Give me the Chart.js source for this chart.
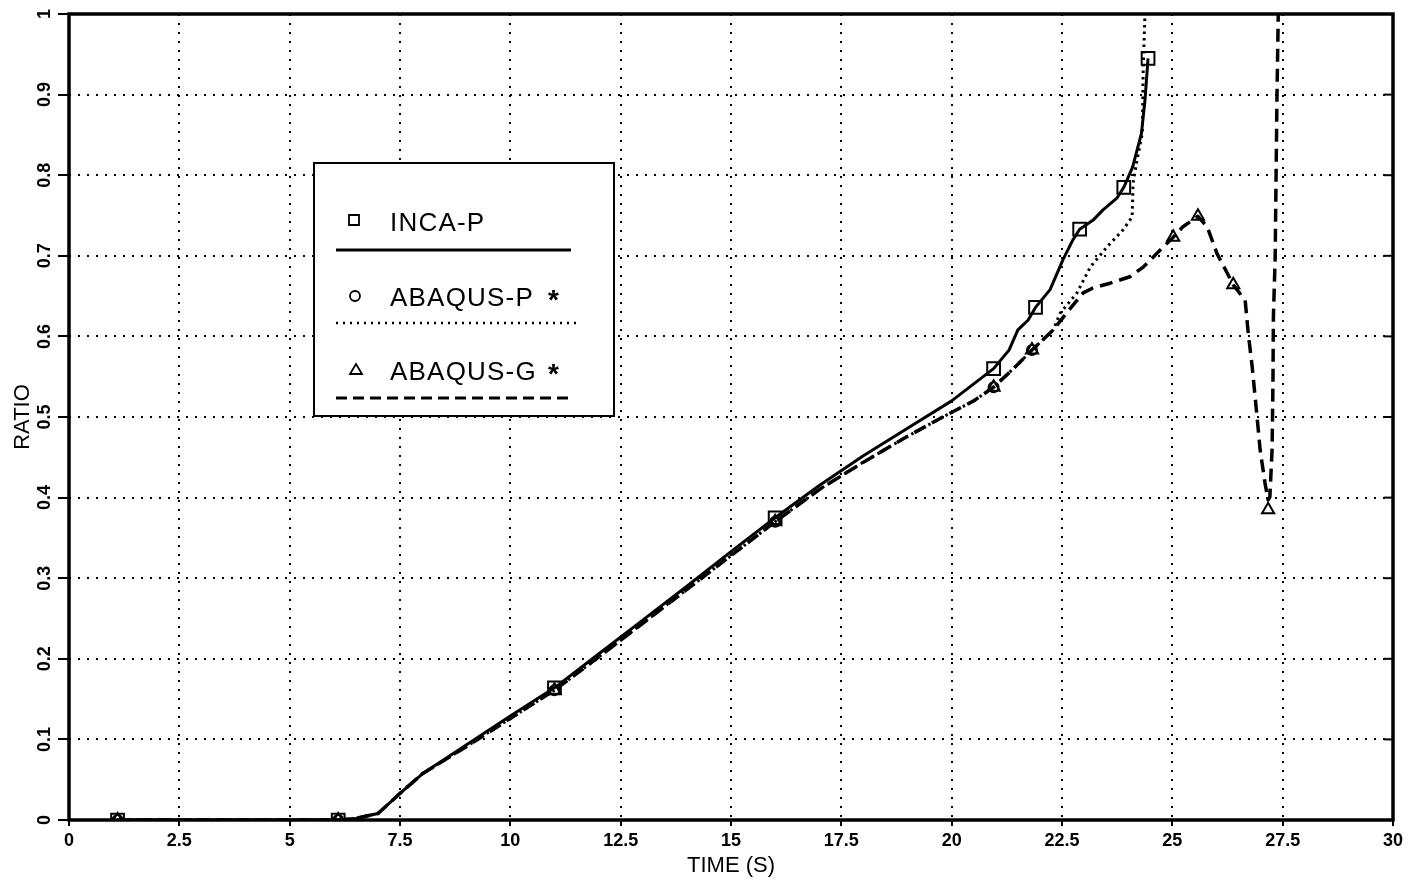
<!DOCTYPE html>
<html>
<head>
<meta charset="utf-8">
<title>Ratio vs time</title>
<script src="https://cdn.jsdelivr.net/npm/chart.js@4.4.1/dist/chart.umd.min.js"></script>
<style>
  html, body { margin: 0; padding: 0; background: #fff; }
  #wrap { width: 1410px; height: 881px; position: relative; }
</style>
</head>
<body>
<div id="wrap"><canvas id="ratioChart"></canvas></div>
<script>
// axis ticks
const xTicks = [0, 2.5, 5, 7.5, 10, 12.5, 15, 17.5, 20, 22.5, 25, 27.5, 30];
const xTickLabels = ['0', '2.5', '5', '7.5', '10', '12.5', '15', '17.5', '20', '22.5', '25', '27.5', '30'];
const yTicks = [0, 0.1, 0.2, 0.3, 0.4, 0.5, 0.6, 0.7, 0.8, 0.9, 1];
const yTickLabels = ['0', '0.1', '0.2', '0.3', '0.4', '0.5', '0.6', '0.7', '0.8', '0.9', '1'];

// INCA-P (solid line, square markers)
const incaTime  = [1.1, 6.1, 6.5, 7, 7.5, 8, 9, 10, 11, 12, 13, 14, 15, 16, 17, 18, 19, 20, 20.95,
                   21.3, 21.5, 21.73, 21.9, 22.23, 22.52, 22.75, 22.9, 23.2, 23.43, 23.75, 23.9,
                   24.1, 24.3, 24.38, 24.45];
const incaRatio = [0, 0, 0.002, 0.008, 0.033, 0.057, 0.093, 0.129, 0.164, 0.206, 0.248, 0.29, 0.333, 0.375, 0.415, 0.452, 0.486, 0.52, 0.56,
                   0.583, 0.608, 0.62, 0.636, 0.658, 0.695, 0.72, 0.733, 0.744, 0.757, 0.772, 0.785,
                   0.81, 0.852, 0.893, 0.945];
const incaMarkTime  = [1.1, 6.1, 11, 16, 20.95, 21.9, 22.9, 23.9, 24.45];
const incaMarkRatio = [0, 0, 0.164, 0.375, 0.56, 0.636, 0.733, 0.785, 0.945];

// ABAQUS-P (dotted line, circle markers)
const abqPTime  = [1.1, 6.1, 6.5, 7, 7.5, 8, 9, 10, 11, 12, 13, 14, 15, 16, 17, 18, 19, 19.9, 20.5, 20.95,
                   21.4, 21.82, 22.3, 22.46, 22.84, 23.14, 23.52, 23.88, 24.09, 24.11, 24.2, 24.32, 24.34, 24.38];
const abqPRatio = [0, 0, 0.002, 0.008, 0.033, 0.057, 0.091, 0.126, 0.161, 0.202, 0.244, 0.286, 0.328, 0.37, 0.41, 0.444, 0.476, 0.503, 0.52, 0.537,
                   0.56, 0.583, 0.608, 0.629, 0.654, 0.686, 0.711, 0.732, 0.748, 0.79, 0.819, 0.852, 0.934, 1.0];
const abqPMarkTime  = [1.1, 6.1, 11, 16, 20.95, 21.82];
const abqPMarkRatio = [0, 0, 0.161, 0.37, 0.537, 0.583];

// ABAQUS-G (dashed line, triangle markers)
const abqGTime  = [1.1, 6.1, 6.5, 7, 7.5, 8, 9, 10, 11, 12, 13, 14, 15, 16, 17, 18, 19, 19.9, 20.5, 20.95,
                   21.4, 21.82, 22.3, 22.62, 22.98, 23.2, 23.59, 24.04, 24.34, 24.65, 25.02, 25.24, 25.58,
                   25.79, 26.01, 26.24, 26.38, 26.65, 26.72, 26.81, 26.92, 26.99, 27.1, 27.17, 27.21,
                   27.26, 27.28, 27.29, 27.33, 27.37, 27.4];
const abqGRatio = [0, 0, 0.002, 0.008, 0.033, 0.057, 0.091, 0.126, 0.161, 0.202, 0.244, 0.286, 0.328, 0.37, 0.41, 0.444, 0.476, 0.503, 0.52, 0.537,
                   0.56, 0.583, 0.608, 0.63, 0.654, 0.66, 0.666, 0.674, 0.686, 0.703, 0.723, 0.736, 0.749,
                   0.736, 0.703, 0.679, 0.664, 0.645, 0.604, 0.562, 0.5, 0.459, 0.418, 0.397, 0.401,
                   0.459, 0.542, 0.624, 0.698, 0.893, 1.0];
const abqGMarkTime  = [1.1, 6.1, 11, 16, 20.95, 21.82, 25.02, 25.58, 26.38, 27.17];
const abqGMarkRatio = [0, 0, 0.161, 0.37, 0.537, 0.583, 0.723, 0.749, 0.664, 0.385];

const seriesNames = ['INCA-P', 'ABAQUS-P', 'ABAQUS-G'];

function toPoints(xs, ys) {
    return xs.map((x, i) => ({ x: x, y: ys[i] }));
}

function lineSet(label, xs, ys, width, dash) {
    return {
        label: label,
        data: toPoints(xs, ys),
        showLine: true,
        borderColor: '#000',
        borderWidth: width,
        borderDash: dash,
        borderCapStyle: 'butt',
        borderJoinStyle: 'round',
        pointRadius: 0,
        tension: 0,
        fill: false
    };
}

function markerSet(label, xs, ys, style, radius) {
    return {
        label: label,
        data: toPoints(xs, ys),
        showLine: false,
        pointStyle: style,
        pointRadius: radius,
        pointBorderColor: '#000',
        pointBackgroundColor: 'rgba(0,0,0,0)',
        pointBorderWidth: 2
    };
}

// outer frame plus the small inward ticks on the right edge
const framePlugin = {
    id: 'frame',
    afterDatasetsDraw(chart) {
        const { ctx, chartArea: a, scales } = chart;
        ctx.save();
        ctx.setLineDash([]);
        ctx.strokeStyle = '#000';
        ctx.lineWidth = 2;
        yTicks.forEach(v => {
            const y = scales.y.getPixelForValue(v);
            ctx.beginPath();
            ctx.moveTo(a.right - 9, y);
            ctx.lineTo(a.right, y);
            ctx.stroke();
        });
        ctx.lineWidth = 3.5;
        ctx.strokeRect(a.left, a.top, a.right - a.left, a.bottom - a.top);
        ctx.restore();
    }
};

// boxed legend: marker + name, line sample underneath
const boxLegend = {
    id: 'boxLegend',
    afterDraw(chart) {
        const ctx = chart.ctx;
        const box = { x: 314, y: 163, w: 300, h: 253 };
        const rows = [
            { y: 231, lineY: 250, end: 571, dash: [], width: 3, star: false },
            { y: 306, lineY: 323, end: 578, dash: [2, 5], width: 2.5, star: true },
            { y: 380, lineY: 398, end: 571, dash: [11, 6], width: 3, star: true }
        ];
        ctx.save();
        ctx.fillStyle = '#fff';
        ctx.fillRect(box.x, box.y, box.w, box.h);
        ctx.strokeStyle = '#000';
        ctx.lineWidth = 2;
        ctx.strokeRect(box.x, box.y, box.w, box.h);

        rows.forEach((r, i) => {
            // marker
            ctx.setLineDash([]);
            ctx.lineWidth = 1.8;
            ctx.beginPath();
            if (i === 0) {
                ctx.rect(349, r.y - 16, 10, 10);
            } else if (i === 1) {
                ctx.arc(355, r.y - 10, 5, 0, Math.PI * 2);
            } else {
                ctx.moveTo(356, r.y - 16);
                ctx.lineTo(362, r.y - 6);
                ctx.lineTo(350, r.y - 6);
                ctx.closePath();
            }
            ctx.stroke();

            // name
            ctx.fillStyle = '#000';
            ctx.font = '26px "Liberation Sans", Arial, sans-serif';
            ctx.letterSpacing = '1.2px';
            ctx.textAlign = 'left';
            ctx.textBaseline = 'alphabetic';
            ctx.fillText(seriesNames[i], 390, r.y);
            if (r.star) {
                ctx.letterSpacing = '0px';
                ctx.font = 'bold 28px "Liberation Sans", Arial, sans-serif';
                ctx.fillText('*', 548, r.y + 3);
            }

            // line sample
            ctx.setLineDash(r.dash);
            ctx.lineWidth = r.width;
            ctx.beginPath();
            ctx.moveTo(336, r.lineY);
            ctx.lineTo(r.end, r.lineY);
            ctx.stroke();
        });
        ctx.restore();
    }
};

const tickFont = { family: '"Liberation Sans", Arial, sans-serif', size: 18, weight: 'bold' };
const titleFont = { family: '"Liberation Sans", Arial, sans-serif', size: 22 };

const ctx = document.getElementById('ratioChart').getContext('2d');

const ratioChart = new Chart(ctx, {
    type: 'scatter',
    data: {
        datasets: [
            lineSet('INCA-P', incaTime, incaRatio, 3, []),
            lineSet('ABAQUS-P', abqPTime, abqPRatio, 3, [2.5, 4]),
            lineSet('ABAQUS-G', abqGTime, abqGRatio, 3.5, [13, 7]),
            markerSet('INCA-P', incaMarkTime, incaMarkRatio, 'rect', 9),
            markerSet('ABAQUS-P', abqPMarkTime, abqPMarkRatio, 'circle', 5),
            markerSet('ABAQUS-G', abqGMarkTime, abqGMarkRatio, 'triangle', 7)
        ]
    },
    options: {
        responsive: true,
        maintainAspectRatio: false,
        animation: false,
        layout: { padding: { left: 0, right: 17, top: 14, bottom: 0 } },
        plugins: {
            legend: { display: false },
            tooltip: { enabled: false }
        },
        scales: {
            x: {
                type: 'linear',
                min: 0,
                max: 30,
                afterBuildTicks: scale => { scale.ticks = xTicks.map(v => ({ value: v })); },
                afterFit: scale => { scale.height = 61; },
                ticks: {
                    autoSkip: false,
                    maxRotation: 0,
                    padding: 4,
                    color: '#000',
                    font: tickFont,
                    callback: (value, index) => xTickLabels[index]
                },
                grid: {
                    color: '#000',
                    lineWidth: 2,
                    tickLength: 6,
                    tickWidth: 2,
                    tickColor: '#000'
                },
                border: { display: false, dash: [2, 7] },
                title: {
                    display: true,
                    text: 'TIME (S)',
                    color: '#000',
                    font: titleFont,
                    padding: { top: 0, bottom: 2 }
                }
            },
            y: {
                type: 'linear',
                min: 0,
                max: 1,
                afterBuildTicks: scale => { scale.ticks = yTicks.map(v => ({ value: v })); },
                afterFit: scale => { scale.width = 69; },
                ticks: {
                    autoSkip: false,
                    minRotation: 90,
                    maxRotation: 90,
                    crossAlign: 'center',
                    padding: 0,
                    color: '#000',
                    font: tickFont,
                    callback: (value, index) => yTickLabels[index]
                },
                grid: {
                    color: '#000',
                    lineWidth: 2,
                    tickLength: 11,
                    tickWidth: 2,
                    tickColor: '#000'
                },
                border: { display: false, dash: [2, 7] },
                title: {
                    display: true,
                    text: 'RATIO',
                    color: '#000',
                    font: titleFont,
                    padding: { top: 10, bottom: 0 }
                }
            }
        }
    },
    plugins: [framePlugin, boxLegend]
});
</script>
</body>
</html>
